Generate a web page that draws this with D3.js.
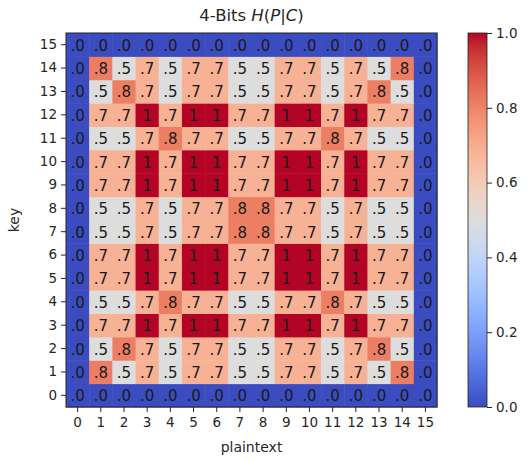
<!DOCTYPE html>
<html><head><meta charset="utf-8">
<script src="https://cdn.jsdelivr.net/npm/d3@7"></script>
<style>body{margin:0;background:#fff}svg{display:block}text{font-family:"DejaVu Sans",sans-serif}</style>
</head><body><svg id="c" width="527" height="461"></svg>
<script>
// Data
const plaintext = d3.range(16);
const keys = d3.range(16);
// rows listed from key 0 (bottom) to key 15 (top)
const A = 0.5, B = 0.6875, C = 0.8125, D = 1.0, Z = 0.0;
const rowZero = [Z,Z,Z,Z,Z,Z,Z,Z,Z,Z,Z,Z,Z,Z,Z,Z];
const rowK1  = [Z,C,A,B,A,B,B,A,A,B,B,A,B,A,C,Z];
const rowK2  = [Z,A,C,B,A,B,B,A,A,B,B,A,B,C,A,Z];
const rowK3  = [Z,B,B,D,B,D,D,B,B,D,D,B,D,B,B,Z];
const rowK4  = [Z,A,A,B,C,B,B,A,A,B,B,C,B,A,A,Z];
const rowK7  = [Z,A,A,B,A,B,B,C,C,B,B,A,B,A,A,Z];
const values = [rowZero,rowK1,rowK2,rowK3,rowK4,rowK3,rowK3,rowK7,rowK7,rowK3,rowK3,rowK4,rowK3,rowK2,rowK1,rowZero];
const cbarTicks = [0,0.2,0.4,0.6,0.8,1.0];

// coolwarm colormap (Moreland)
const cw = [[59,76,192],[68,90,204],[77,104,215],[87,117,225],[98,130,234],[108,142,241],[119,154,247],[130,165,251],[141,176,254],[152,185,255],[163,194,255],[174,201,253],[184,208,249],[194,213,244],[204,217,238],[213,219,230],[221,221,221],[229,216,209],[236,211,197],[241,204,185],[245,196,173],[247,187,160],[247,177,148],[247,166,135],[244,154,123],[241,141,111],[236,127,99],[229,112,88],[222,96,77],[213,80,66],[203,62,56],[192,40,47],[180,4,38]];
const interp = d3.piecewise(d3.interpolateRgb, cw.map(c=>d3.rgb(c[0],c[1],c[2])));
const color = d3.scaleSequential(interp).domain([0,1]);

const svg = d3.select("#c");
const L=66, T=33, W=371, H=374;
const x = d3.scaleBand().domain(plaintext).range([L,L+W]);
const y = d3.scaleBand().domain(keys).range([T+H,T]);

const cells=[];
values.forEach((row,k)=>row.forEach((v,p)=>cells.push({k,p,v})));
const fmt = v => v>=1 ? "1" : d3.format(".1f")(v).replace(/^0/,"");

svg.append("g").selectAll("rect").data(cells).join("rect")
  .attr("x",d=>x(d.p)).attr("y",d=>y(d.k))
  .attr("width",x.bandwidth()+0.5).attr("height",y.bandwidth()+0.5)
  .attr("fill",d=>color(d.v));
svg.append("g").selectAll("text").data(cells).join("text")
  .attr("x",d=>x(d.p)+x.bandwidth()/2).attr("y",d=>y(d.k)+y.bandwidth()/2+1)
  .attr("text-anchor","middle").attr("dominant-baseline","central")
  .attr("font-size",15).attr("fill","#1a1a1a").text(d=>fmt(d.v));
svg.append("rect").attr("x",L).attr("y",T).attr("width",W).attr("height",H)
  .attr("fill","none").attr("stroke","#222").attr("stroke-width",1);

const ax = svg.append("g").attr("transform",`translate(0,${T+H})`).call(d3.axisBottom(x).tickSize(5).tickPadding(5));
const ay = svg.append("g").attr("transform",`translate(${L},0)`).call(d3.axisLeft(y).tickSize(5).tickPadding(4));
[ax,ay].forEach(a=>{a.select(".domain").remove();a.selectAll("text").attr("font-size",13.5).attr("fill","#262626").attr("font-family","DejaVu Sans");a.selectAll("line").attr("stroke","#262626");});

svg.append("text").attr("x",L+W/2).attr("y",452).attr("text-anchor","middle").attr("font-size",14).attr("fill","#262626").text("plaintext");
svg.append("text").attr("transform",`translate(19,${T+H/2}) rotate(-90)`).attr("text-anchor","middle").attr("font-size",14).attr("fill","#262626").text("key");

const title = svg.append("text").attr("x",L+W/2).attr("y",21).attr("text-anchor","middle").attr("font-size",16.5).attr("fill","#262626");
title.append("tspan").text("4-Bits ");
title.append("tspan").attr("font-style","italic").text("H");
title.append("tspan").text("(");
title.append("tspan").attr("font-style","italic").text("P");
title.append("tspan").text("|");
title.append("tspan").attr("font-style","italic").text("C");
title.append("tspan").text(")");

// colorbar
const CX=468, CW=19;
const cy = d3.scaleLinear().domain([0,1]).range([T+H,T]);
const defs = svg.append("defs");
const grad = defs.append("linearGradient").attr("id","g").attr("x1",0).attr("y1",1).attr("x2",0).attr("y2",0);
d3.range(0,1.0001,1/32).forEach(t=>grad.append("stop").attr("offset",t).attr("stop-color",color(t)));
svg.append("rect").attr("x",CX).attr("y",T).attr("width",CW).attr("height",H).attr("fill","url(#g)").attr("stroke","#222").attr("stroke-width",0.8);
const ac = svg.append("g").attr("transform",`translate(${CX+CW},0)`).call(d3.axisRight(cy).tickValues(cbarTicks).tickFormat(d3.format(".1f")).tickSize(5).tickPadding(4));
ac.select(".domain").remove();
ac.selectAll("text").attr("font-size",13.5).attr("fill","#262626").attr("font-family","DejaVu Sans");
ac.selectAll("line").attr("stroke","#262626");
</script></body></html>
